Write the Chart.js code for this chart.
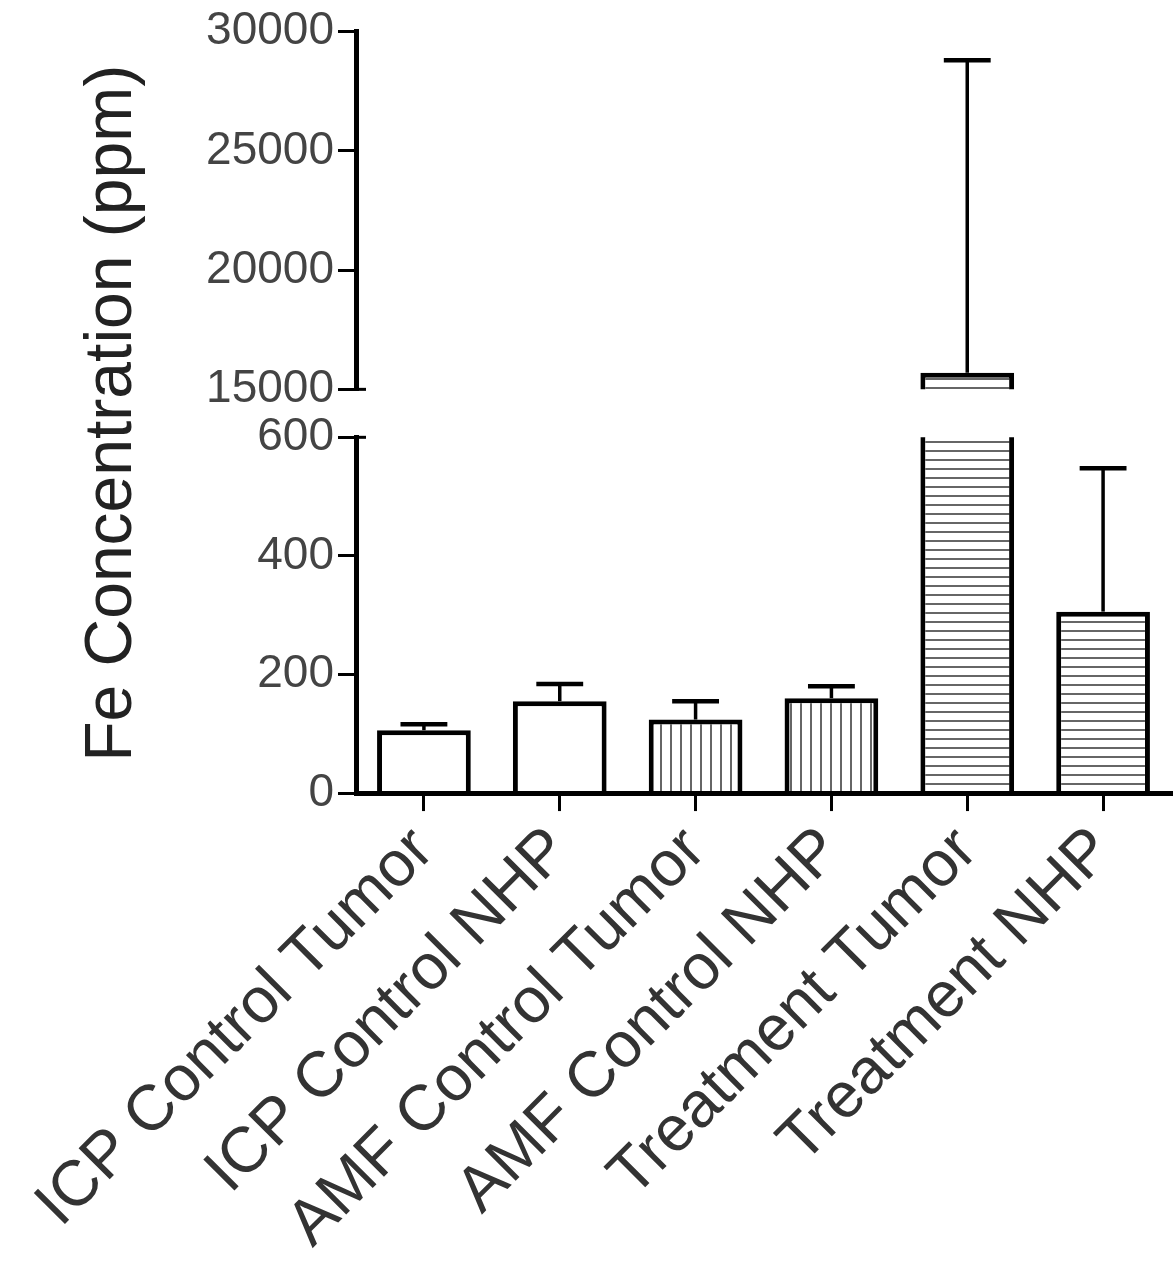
<!DOCTYPE html>
<html>
<head>
<meta charset="utf-8">
<script src="https://cdn.jsdelivr.net/npm/chart.js@4.4.0/dist/chart.umd.min.js"></script>
<style>
  html, body { margin: 0; padding: 0; background: #fff; }
  #wrap { width: 1173px; height: 1279px; }
</style>
</head>
<body>
<div id="wrap"><canvas id="feChart"></canvas></div>
<script>
// ── Data ───────────────────────────────────────────────────
const groups   = ['ICP Control Tumor', 'ICP Control NHP', 'AMF Control Tumor', 'AMF Control NHP', 'Treatment Tumor', 'Treatment NHP'];
const meanFe   = [106, 155, 124, 160, 15700, 306];
const sdFe     = [10, 29, 31, 20, 13100, 242];
const fillKind = ['plain', 'plain', 'vertical', 'vertical', 'horizontal', 'horizontal'];
const lowerTicks = [0, 200, 400, 600];
const upperTicks = [15000, 20000, 25000, 30000];

Chart.defaults.font.family = "'Liberation Sans', Arial, sans-serif";

// ── Hatch fills ────────────────────────────────────────────
function hatch(kind) {
  if (kind === 'plain') return '#ffffff';
  const c = document.createElement('canvas');
  const s = kind === 'vertical' ? 10 : 9;
  c.width = s; c.height = s;
  const g = c.getContext('2d');
  g.fillStyle = '#ffffff';
  g.fillRect(0, 0, s, s);
  g.fillStyle = '#666666';
  if (kind === 'vertical') g.fillRect(0, 0, 2, s);
  else g.fillRect(0, 0, s, 2);
  return g.createPattern(c, 'repeat');
}
const fills = fillKind.map(hatch);

// ── Error bars (upper SD only) + axis break marks ──────────
const errorBars = {
  id: 'errorBars',
  afterDatasetsDraw(chart) {
    const { ctx, scales } = chart;
    const meta = chart.getDatasetMeta(0);
    ctx.save();
    ctx.strokeStyle = '#000';
    meanFe.forEach((m, i) => {
      const axis = m >= upperTicks[0] ? scales.y2 : scales.y;
      const x = scales.x.getPixelForValue(i);
      const half = meta.data[i].width / 4;
      const y0 = axis.getPixelForValue(m);
      const y1 = axis.getPixelForValue(m + sdFe[i]);
      ctx.lineWidth = 3.5;
      ctx.beginPath(); ctx.moveTo(x, y0); ctx.lineTo(x, y1); ctx.stroke();
      ctx.lineWidth = 4.5;
      ctx.beginPath(); ctx.moveTo(x - half, y1); ctx.lineTo(x + half, y1); ctx.stroke();
    });
    ctx.restore();
  },
  afterDraw(chart) {
    const { ctx, scales } = chart;
    const ax = scales.y.right;
    ctx.save();
    ctx.strokeStyle = '#000';
    ctx.lineWidth = 3;
    [scales.y2.bottom, scales.y.top].forEach(py => {
      ctx.beginPath(); ctx.moveTo(ax - 2, py); ctx.lineTo(ax + 10, py); ctx.stroke();
    });
    ctx.restore();
  }
};

const tickFont = { size: 46 };
const plainNum = v => String(v);
const axisGrid = { drawOnChartArea: false, color: '#000', lineWidth: 3, tickLength: 18 };
const axisBorder = { color: '#000', width: 5 };

const barStyle = {
  backgroundColor: fills,
  borderColor: '#000',
  borderWidth: 5,
  borderSkipped: 'start',
  barPercentage: 0.69,
  categoryPercentage: 1,
  grouped: false,
};

new Chart(document.getElementById('feChart'), {
  type: 'bar',
  data: {
    labels: groups,
    datasets: [
      { label: 'Fe (0-600)', data: meanFe, yAxisID: 'y', ...barStyle },
      { label: 'Fe (15000-30000)', data: meanFe.map(v => v >= upperTicks[0] ? v : null), yAxisID: 'y2', ...barStyle },
    ]
  },
  options: {
    responsive: true,
    maintainAspectRatio: false,
    animation: false,
    layout: { padding: { left: 73, right: 2, top: 4, bottom: 14 } },
    plugins: { legend: { display: false }, tooltip: { enabled: false } },
    scales: {
      x: {
        type: 'category',
        offset: true,
        grid: { ...axisGrid, offset: false },
        border: { ...axisBorder, z: 1 },
        ticks: { maxRotation: 45, minRotation: 45, autoSkip: false, color: '#333', font: { size: 64 }, padding: 2 },
      },
      y: {
        type: 'linear', position: 'left', stack: 'fe', stackWeight: 356,
        min: lowerTicks[0], max: lowerTicks[lowerTicks.length - 1],
        ticks: { stepSize: lowerTicks[1] - lowerTicks[0], color: '#444', font: tickFont, padding: 4, callback: plainNum },
        grid: axisGrid,
        border: axisBorder,
      },
      gap: {
        type: 'linear', position: 'left', stack: 'fe', stackWeight: 48,
        ticks: { display: false },
        grid: { display: false },
        border: { display: false },
        title: { display: true, text: 'Fe Concentration (ppm)', color: '#222', font: { size: 66 }, padding: 0 },
        afterFit(scale) { scale.width = 283; },
      },
      y2: {
        type: 'linear', position: 'left', stack: 'fe', stackWeight: 358,
        min: upperTicks[0], max: upperTicks[upperTicks.length - 1],
        ticks: { stepSize: upperTicks[1] - upperTicks[0], color: '#444', font: tickFont, padding: 4, callback: plainNum },
        grid: axisGrid,
        border: axisBorder,
      },
    }
  },
  plugins: [errorBars]
});
</script>
</body>
</html>
